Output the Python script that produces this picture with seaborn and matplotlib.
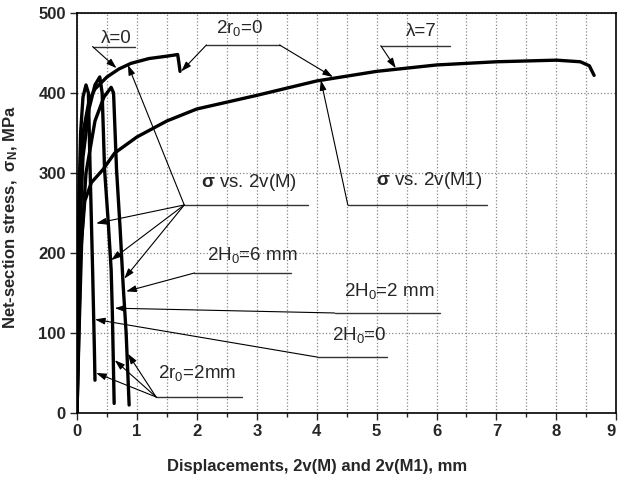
import matplotlib
matplotlib.use("Agg")
import matplotlib.pyplot as plt
import matplotlib.transforms as mtransforms
import seaborn as sns
import numpy as np
import pandas as pd
from matplotlib.ticker import MultipleLocator

# ---- data ----
lam0_x = [0, 0.02, 0.05, 0.1, 0.2, 0.3, 0.5, 0.7, 0.9, 1.2, 1.5, 1.68, 1.70, 1.72]
lam0_y = [0, 150, 280, 350, 390, 405, 420, 430, 437, 443, 446, 448, 438, 427]

lam7_x = [0, 0.03, 0.06, 0.13, 0.24, 0.43, 0.63, 1.0, 1.5, 2.0, 3.0, 4.0, 5.0, 6.0, 7.0, 8.0, 8.4, 8.55, 8.63]
lam7_y = [0, 100, 200, 265, 288, 304, 325, 345, 365, 380, 397, 415, 427, 435, 439, 441, 439, 434, 422]

h0_x = [0, 0.01, 0.03, 0.06, 0.1, 0.15, 0.19, 0.22, 0.26, 0.29, 0.30]
h0_y = [0, 120, 260, 350, 395, 410, 400, 300, 180, 80, 41]

h2_x = [0, 0.02, 0.05, 0.1, 0.2, 0.3, 0.38, 0.42, 0.46, 0.52, 0.57, 0.59, 0.62]
h2_y = [0, 100, 230, 320, 380, 410, 420, 400, 304, 240, 179, 125, 12]

h6_x = [0, 0.03, 0.08, 0.15, 0.3, 0.45, 0.57, 0.61, 0.66, 0.72, 0.77, 0.82, 0.87]
h6_y = [0, 90, 220, 300, 365, 395, 407, 400, 304, 230, 160, 100, 10]

x_ticks = [0, 1, 2, 3, 4, 5, 6, 7, 8, 9]
y_ticks = [0, 100, 200, 300, 400, 500]

# ---- style ----
sns.set_style("ticks")
plt.rcParams["font.family"] = ["Liberation Sans", "DejaVu Sans"]
plt.rcParams["mathtext.fontset"] = "custom"
plt.rcParams["mathtext.rm"] = "Liberation Sans"
plt.rcParams["mathtext.it"] = "Liberation Sans:italic"
plt.rcParams["mathtext.bf"] = "Liberation Sans:bold"

fig = plt.figure(figsize=(6.19, 4.80), dpi=100)
ax = fig.add_axes([0.1244, 0.1396, 0.8712, 0.8334])

curves = [(lam0_x, lam0_y), (lam7_x, lam7_y), (h0_x, h0_y), (h2_x, h2_y), (h6_x, h6_y)]
for cx, cy in curves:
    df = pd.DataFrame({"x": cx, "y": cy})
    sns.lineplot(data=df, x="x", y="y", ax=ax, sort=False, estimator=None,
                 color="black", lw=2.4, solid_capstyle="round", solid_joinstyle="round")

ax.set_xlim(0, 9)
ax.set_ylim(0, 500)
ax.set_xticks(x_ticks)
ax.set_yticks(y_ticks)
ax.xaxis.set_minor_locator(MultipleLocator(0.5))
ax.grid(True, which="major", axis="both", color="#888888", ls=":", lw=0.9)
ax.grid(True, which="minor", axis="x", color="#888888", ls=":", lw=0.9)
for s in ax.spines.values():
    s.set_linewidth(1.2)
    s.set_color("black")
ax.tick_params(axis="both", which="major", direction="out", length=5, width=1.0,
               labelsize=12, pad=3)
ax.tick_params(axis="x", which="minor", direction="out", length=3, width=1.0)
for lbl in ax.get_xticklabels() + ax.get_yticklabels():
    lbl.set_fontweight("bold")
# keep the last x tick label ("9") inside the figure edge
last = ax.get_xticklabels()[-1]
last.set_transform(last.get_transform() + mtransforms.ScaledTranslation(-4 / 72, 0, fig.dpi_scale_trans))

ax.set_xlabel("Displacements, 2v(M) and 2v(M1), mm", fontsize=12, fontweight="bold")
ax.xaxis.set_label_coords(4.0 / 9.0, -0.115)
ax.set_ylabel("Net-section stress,  σ$_\\mathbf{N}$, MPa", fontsize=12, fontweight="bold")
ax.yaxis.set_label_coords(-0.105, 0.49)

# ---- annotations ----
ann_kw = dict(arrowstyle="-|>,head_length=0.6,head_width=0.2", color="black", lw=0.8,
              mutation_scale=10, shrinkA=0, shrinkB=0)
ul_kw = dict(color="#333333", lw=1.0)
fs = 13.5

def leader(start, tip):
    ax.annotate("", xy=tip, xytext=start, arrowprops=ann_kw)

# lambda = 0
ax.text(0.66, 468, "λ=0", fontsize=fs, ha="center", va="center")
ax.plot([0.26, 0.96], [458, 458], **ul_kw)
leader((0.26, 458), (0.66, 431))

# 2r0 = 0
ax.text(2.71, 481, "2r$_\\mathregular{0}$=0", fontsize=fs, ha="center", va="center")
ax.plot([2.16, 3.38], [460, 460], **ul_kw)
leader((2.16, 460), (1.74, 427))
leader((3.38, 460), (4.27, 420))

# lambda = 7
ax.text(5.74, 477, "λ=7", fontsize=fs, ha="center", va="center")
ax.plot([5.07, 6.22], [459, 459], **ul_kw)
leader((5.07, 459), (5.32, 431))

# sigma vs 2v(M)
ax.text(2.87, 288, "$\\mathbf{σ}$ vs. 2v(M)", fontsize=fs, ha="center", va="center")
ax.plot([1.79, 3.85], [260, 260], **ul_kw)
for tip in [(0.85, 435), (0.32, 237), (0.57, 191), (0.79, 168)]:
    leader((1.79, 260), tip)

# sigma vs 2v(M1)
ax.text(5.88, 290, "$\\mathbf{σ}$ vs. 2v(M1)", fontsize=fs, ha="center", va="center")
ax.plot([4.52, 6.85], [260, 260], **ul_kw)
leader((4.52, 260), (4.07, 416))

# 2H0 = 6 mm
ax.text(2.93, 197, "2H$_\\mathregular{0}$=6 mm", fontsize=fs, ha="center", va="center")
ax.plot([1.96, 3.57], [175, 175], **ul_kw)
leader((1.96, 175), (0.82, 152))

# 2H0 = 2 mm
ax.text(5.21, 153, "2H$_\\mathregular{0}$=2 mm", fontsize=fs, ha="center", va="center")
ax.plot([4.3, 6.05], [125, 125], **ul_kw)
leader((4.3, 125), (0.63, 131))

# 2H0 = 0
ax.text(4.71, 97, "2H$_\\mathregular{0}$=0", fontsize=fs, ha="center", va="center")
ax.plot([4.0, 5.17], [70, 70], **ul_kw)
leader((4.0, 70), (0.30, 117))

# 2r0 = 2mm
ax.text(2.0, 50, "2r$_\\mathregular{0}$=2mm", fontsize=fs, ha="center", va="center")
ax.plot([1.32, 2.76], [20, 20], **ul_kw)
for tip in [(0.32, 50), (0.63, 66), (0.85, 74)]:
    leader((1.32, 20), tip)

fig.savefig("out.png", dpi=100)
